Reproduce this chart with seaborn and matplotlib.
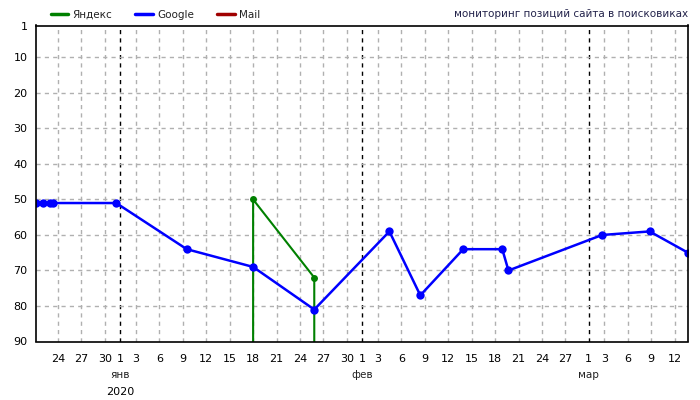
import pandas as pd
import numpy as np
import matplotlib
matplotlib.use('Agg')
import matplotlib.pyplot as plt
import matplotlib.dates as mdates
from matplotlib.lines import Line2D
import seaborn as sns

# Positions (lower = better, axis is inverted)
google_dates = ['2019-12-21 04:30', '2019-12-22 01:00', '2019-12-23 00:00', '2019-12-23 10:00',
                '2019-12-31 11:00', '2020-01-09 12:00', '2020-01-18 00:00', '2020-01-25 20:00',
                '2020-02-04 11:00', '2020-02-08 10:00', '2020-02-13 22:00', '2020-02-18 22:00',
                '2020-02-19 17:00', '2020-03-02 17:00', '2020-03-08 19:00', '2020-03-13 17:00']
google_pos = [51, 51, 51, 51, 51, 64, 69, 81, 59, 77, 64, 64, 70, 60, 59, 65]

# 100 = not found (drawn below the visible range)
yandex_dates = ['2020-01-18 00:00', '2020-01-18 00:00', '2020-01-25 20:00', '2020-01-25 20:00']
yandex_pos = [100, 50, 72, 100]

tick_days = ([pd.Timestamp(2019, 12, d) for d in [24, 27, 30]] +
             [pd.Timestamp(2020, 1, d) for d in [1, 3, 6, 9, 12, 15, 18, 21, 24, 27, 30]] +
             [pd.Timestamp(2020, 2, d) for d in [1, 3, 6, 9, 12, 15, 18, 21, 24, 27]] +
             [pd.Timestamp(2020, 3, d) for d in [1, 3, 6, 9, 12]])
month_labels = {'2020-01-01': 'янв', '2020-02-01': 'фев', '2020-03-01': 'мар'}
y_ticks = [1, 10, 20, 30, 40, 50, 60, 70, 80, 90]

google = pd.DataFrame({'date': pd.to_datetime(google_dates), 'pos': google_pos})
yandex = pd.DataFrame({'date': pd.to_datetime(yandex_dates), 'pos': yandex_pos})

sns.set_style('white')
plt.rcParams['font.family'] = ['DejaVu Sans']
plt.rcParams['font.size'] = 8
plt.rcParams['text.color'] = 'black'

fig = plt.figure(figsize=(7, 4), dpi=100)
ax = fig.add_axes([36 / 700, 1 - 341.5 / 400, 652 / 700, 316 / 400])

green = '#008000'
blue = '#0000ff'
red = '#a00000'

sns.lineplot(data=yandex, x='date', y='pos', ax=ax, color=green, lw=1.5,
             marker='o', markersize=5, markeredgewidth=0, estimator=None, sort=False)
sns.lineplot(data=google, x='date', y='pos', ax=ax, color=blue, lw=1.8,
             marker='o', markersize=6, markeredgewidth=0, estimator=None, sort=False)

ax.set_xlim(google['date'].iloc[0], google['date'].iloc[-1])
ax.set_ylim(90, 1)
ax.set_yticks(y_ticks)
ax.set_xticks(tick_days)
ax.set_xticklabels([str(d.day) for d in tick_days])
ax.tick_params(axis='both', length=0, labelsize=8, colors='black')
ax.tick_params(axis='x', pad=9)
ax.tick_params(axis='y', pad=6)
ax.set_xlabel('')
ax.set_ylabel('')

# grid: gray dashed, month starts black dashed
for d in tick_days:
    if d.day == 1:
        ax.axvline(d, color='black', lw=1, ls=(0, (3, 3)), zorder=0)
    else:
        ax.axvline(d, color='#b0b0b0', lw=1, ls=(0, (3, 3)), zorder=0)
for v in y_ticks[1:-1]:
    ax.axhline(v, color='#b0b0b0', lw=1, ls=(0, (3, 3)), zorder=0)

for s in ax.spines.values():
    s.set_color('black')
    s.set_linewidth(1.2)

xt = ax.get_xaxis_transform()
for d, lab in month_labels.items():
    ax.text(pd.Timestamp(d), -0.107, lab, transform=xt, ha='center', va='center', fontsize=7.5, color='#222222')
ax.text(pd.Timestamp('2020-01-01'), -0.161, '2020', transform=xt, ha='center', va='center', fontsize=8)

handles = [Line2D([], [], color=green, lw=2.5), Line2D([], [], color=blue, lw=2.5),
           Line2D([], [], color=red, lw=2.5)]
leg = fig.legend(handles, ['Яндекс', 'Google', 'Mail'], loc='center left', bbox_to_anchor=(0.065, 0.963),
                 ncol=3, frameon=False, fontsize=7.5, handlelength=1.7, handletextpad=0.4,
                 columnspacing=2.2, borderpad=0)
for t in leg.get_texts():
    t.set_color('#222222')
fig.text(688 / 700, 1 - 14 / 400, 'мониторинг позиций сайта в поисковиках', ha='right', va='center',
         fontsize=7.5, color='#22224a')

fig.savefig('out.png', dpi=100)
